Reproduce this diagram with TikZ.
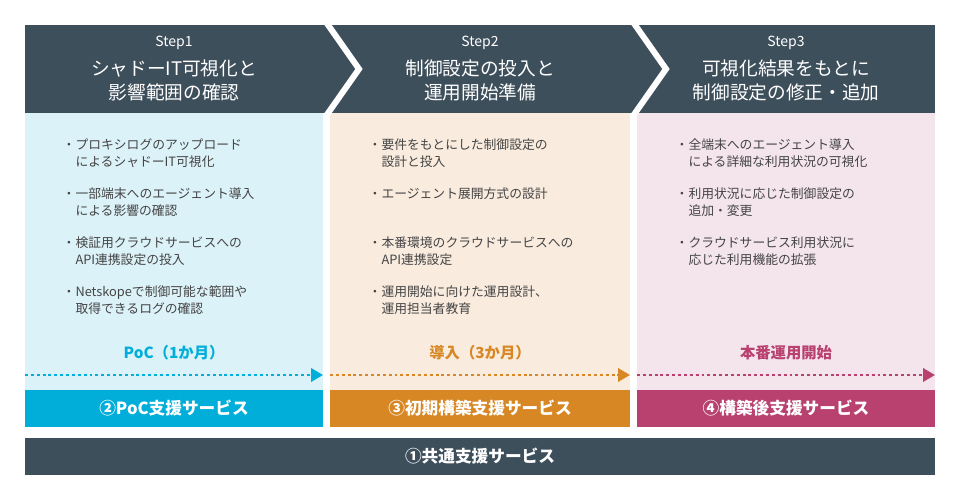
\documentclass[tikz,border=0pt]{standalone}
\usepackage{fontspec}
\setmainfont{Noto Sans CJK JP}
\usetikzlibrary{arrows.meta}
\definecolor{slate}{HTML}{3E4F5C}
\definecolor{pocblue}{HTML}{00AED9}
\definecolor{impor}{HTML}{D88725}
\definecolor{prodpk}{HTML}{B8416F}
\definecolor{bgblue}{HTML}{DCF2F9}
\definecolor{bgor}{HTML}{F9ECDF}
\definecolor{bgpk}{HTML}{F4E4EC}
\definecolor{itemgray}{HTML}{444444}
\tikzset{
  title/.style={text=white, font=\fontsize{14}{18}\selectfont, align=center},
  steplbl/.style={text=white, font=\fontsize{10.5}{12}\selectfont},
  item/.style={anchor=north west, text=itemgray, align=left, font=\fontsize{9.6}{13}\selectfont},
  phase/.style={font=\bfseries\fontsize{11.5}{13}\selectfont},
  flow/.style={line width=2pt, dash pattern=on 2.2pt off 2.2pt, -{Triangle[length=9pt,width=10pt]}},
  svc/.style={text=white, font=\bfseries\fontsize{12.5}{14}\selectfont}
}
\newcommand{\ind}{\phantom{・}}
\begin{document}
\begin{tikzpicture}[x=0.75pt,y=-0.75pt]
\useasboundingbox (0,0) rectangle (960,500);
\fill[white] (0,0) rectangle (960,500);
% panels
\fill[bgblue] (25,113) rectangle (323,427);
\fill[bgor] (330,113) rectangle (630,427);
\fill[bgpk] (637,113) rectangle (935,427);
% header with chevrons
\fill[slate] (25,25) rectangle (935,113);
\draw[white, line width=4.5pt] (326,22) -- (359,69) -- (326,116);
\draw[white, line width=4.5pt] (633,22) -- (666,69) -- (633,116);
\node[steplbl] (s1) at (174,43) {Step1};
\node[title] (t1) at (174,80) {シャドーIT可視化と\\影響範囲の確認};
\node[steplbl] (s2) at (480,43) {Step2};
\node[title] (t2) at (480,80) {制御設定の投入と\\運用開始準備};
\node[steplbl] (s3) at (786,43) {Step3};
\node[title] (t3) at (786,80) {可視化結果をもとに\\制御設定の修正・追加};
% items
\node[item] (a1) at (58,134) {・プロキシログのアップロード\\\ind によるシャドーIT可視化};
\node[item] (a2) at (58,183) {・一部端末へのエージェント導入\\\ind による影響の確認};
\node[item] (a3) at (58,232) {・検証用クラウドサービスへの\\\ind API連携設定の投入};
\node[item] (a4) at (58,281) {・Netskopeで制御可能な範囲や\\\ind 取得できるログの確認};
\node[item] (b1) at (364,134) {・要件をもとにした制御設定の\\\ind 設計と投入};
\node[item] (b2) at (364,183) {・エージェント展開方式の設計};
\node[item] (b3) at (364,232) {・本番環境のクラウドサービスへの\\\ind API連携設定};
\node[item] (b4) at (364,281) {・運用開始に向けた運用設計、\\\ind 運用担当者教育};
\node[item] (c1) at (671,134) {・全端末へのエージェント導入\\\ind による詳細な利用状況の可視化};
\node[item] (c2) at (671,183) {・利用状況に応じた制御設定の\\\ind 追加・変更};
\node[item] (c3) at (671,232) {・クラウドサービス利用状況に\\\ind 応じた利用機能の拡張};
% phases
\node[phase, text=pocblue] (p1) at (174,353) {PoC（1か月）};
\node[phase, text=impor] (p2) at (480,353) {導入（3か月）};
\node[phase, text=prodpk] (p3) at (786,353) {本番運用開始};
\coordinate (f1a) at (25,375); \coordinate (f1b) at (323,375);
\coordinate (f2a) at (330,375); \coordinate (f2b) at (630,375);
\coordinate (f3a) at (637,375); \coordinate (f3b) at (935,375);
\draw[flow, pocblue] (f1a) -- (f1b);
\draw[flow, impor] (f2a) -- (f2b);
\draw[flow, prodpk] (f3a) -- (f3b);
% services
\fill[pocblue] (25,390) rectangle (323,427);
\fill[impor] (330,390) rectangle (630,427);
\fill[prodpk] (637,390) rectangle (935,427);
\node[svc] (v2) at (174,408.5) {②PoC支援サービス};
\node[svc] (v3) at (480,408.5) {③初期構築支援サービス};
\node[svc] (v4) at (786,408.5) {④構築後支援サービス};
\fill[slate] (25,438) rectangle (935,475);
\node[svc] (v1) at (480,456.5) {①共通支援サービス};
\end{tikzpicture}
\end{document}
